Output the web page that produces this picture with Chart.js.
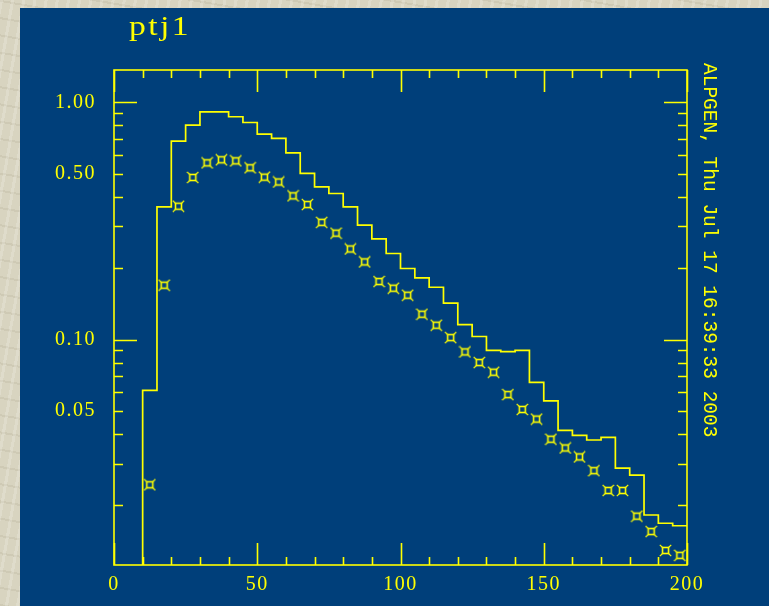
<!DOCTYPE html>
<html>
<head>
<meta charset="utf-8">
<script src="https://cdn.jsdelivr.net/npm/chart.js@4"></script>
<style>
  html, body { margin: 0; padding: 0; }
  body {
    width: 769px; height: 606px; overflow: hidden; position: relative;
    background: #d8d4c0;
    background-image:
      repeating-linear-gradient(100deg, rgba(255,255,255,0.18) 0 3px, rgba(0,0,0,0) 3px 11px),
      repeating-linear-gradient(10deg, rgba(120,110,80,0.10) 0 2px, rgba(0,0,0,0) 2px 17px);
  }
  #panel { position: absolute; left: 20px; top: 8px; width: 760px; height: 610px; background: #003f7a; }
  #chart { position: absolute; left: 0; top: 0; }
  #title {
    position: absolute; left: 129px; top: 12px; color: #ffff00;
    font: 28px/28px "Liberation Serif", serif; letter-spacing: 2px;
    transform-origin: 0 0; transform: scaleX(1.2);
  }
  #stamp {
    position: absolute; left: 720px; top: 63px; color: #ffff00; white-space: nowrap;
    font: 19.5px/22px "Liberation Mono", monospace;
    transform-origin: 0 0; transform: rotate(90deg);
  }
</style>
</head>
<body>
<div id="panel"></div>
<canvas id="chart" width="769" height="606"></canvas>
<div id="title">ptj1</div>
<div id="stamp">ALPGEN, Thu Jul 17 16:39:33 2003</div>
<script>
// bins (low edge), histogram contents and marker values
const binLow = [10, 15, 20, 25, 30, 35, 40, 45, 50, 55, 60, 65, 70, 75, 80, 85, 90, 95, 100,
  105, 110, 115, 120, 125, 130, 135, 140, 145, 150, 155, 160, 165, 170, 175, 180, 185, 190, 195];
const histValues = [0.0611, 0.3625, 0.687, 0.802, 0.913, 0.913, 0.870, 0.823, 0.735, 0.705,
  0.613, 0.502, 0.44, 0.413, 0.3625, 0.3035, 0.2657, 0.2306, 0.1993, 0.182,
  0.1662, 0.1423, 0.1156, 0.103, 0.0901, 0.0889, 0.0901, 0.066, 0.0551, 0.0414,
  0.0394, 0.0377, 0.0387, 0.0287, 0.0268, 0.0182, 0.0168, 0.0164];
const markerValues = [0.0244, 0.1695, 0.365, 0.4826, 0.556, 0.573, 0.567, 0.530, 0.484, 0.462,
  0.4036, 0.371, 0.312, 0.281, 0.241, 0.2125, 0.1757, 0.1646, 0.1538, 0.1279,
  0.1149, 0.1019, 0.0887, 0.080, 0.0728, 0.0586, 0.0507, 0.0462, 0.0380, 0.0349,
  0.0320, 0.028, 0.0231, 0.0231, 0.0180, 0.0155, 0.0129, 0.0123];
const xTickLabels = [0, 50, 100, 150, 200];
const yTickLabels = [0.05, 0.10, 0.50, 1.00];

const yellow = "#ffff00";
const binWidth = 5;
const xMin = 0, xMax = 200;
const yMin = 0.0112, yMax = 1.37;

// step outline: start from the bottom at the first edge, end at the last edge
const histPoints = [{ x: binLow[0], y: yMin / 10 }];
binLow.forEach((lo, i) => histPoints.push({ x: lo, y: histValues[i] }));
histPoints.push({ x: binLow[binLow.length - 1] + binWidth, y: histValues[histValues.length - 1] });

const markerPoints = binLow.map((lo, i) => ({ x: lo + binWidth / 2, y: markerValues[i] }));

// small square marker with spikes on the corners
function makeMarker() {
  const c = document.createElement("canvas");
  c.width = 13;
  c.height = 13;
  const g = c.getContext("2d");
  g.strokeStyle = yellow;
  g.lineWidth = 1.6;
  g.strokeRect(3.5, 3.5, 6, 6);
  g.lineWidth = 1.2;
  g.beginPath();
  g.moveTo(3.5, 3.5); g.lineTo(0.8, 0.8);
  g.moveTo(9.5, 3.5); g.lineTo(12.2, 0.8);
  g.moveTo(3.5, 9.5); g.lineTo(0.8, 12.2);
  g.moveTo(9.5, 9.5); g.lineTo(12.2, 12.2);
  g.stroke();
  return c;
}

// frame with inward ticks on all four sides
const framePlugin = {
  id: "frame",
  beforeDraw(chart) {
    chart.ctx.letterSpacing = "1.5px"; // wider digits like the original plot
  },
  afterDraw(chart) {
    const { ctx, chartArea: a, scales } = chart;
    const xs = scales.x, ys = scales.y;
    ctx.save();
    ctx.strokeStyle = yellow;
    ctx.lineWidth = 1.6;
    ctx.strokeRect(a.left, a.top, a.right - a.left, a.bottom - a.top);
    ctx.beginPath();
    for (let v = xMin; v <= xMax; v += 10) {
      const px = Math.round(xs.getPixelForValue(v)) + 0.5;
      const len = v % 50 === 0 ? 22 : 8;
      ctx.moveTo(px, a.bottom); ctx.lineTo(px, a.bottom - len);
      ctx.moveTo(px, a.top); ctx.lineTo(px, a.top + len);
    }
    for (let e = -2; e <= 0; e++) {
      for (let m = 1; m <= 9; m++) {
        const v = m * Math.pow(10, e);
        if (v < yMin || v > yMax) continue;
        const py = Math.round(ys.getPixelForValue(v)) + 0.5;
        const len = m === 1 ? 23 : 9;
        ctx.moveTo(a.left, py); ctx.lineTo(a.left + len, py);
        ctx.moveTo(a.right, py); ctx.lineTo(a.right - len, py);
      }
    }
    ctx.stroke();
    ctx.restore();
  }
};

const tickFont = { family: "'Liberation Serif', serif", size: 20 };

new Chart(document.getElementById("chart"), {
  type: "line",
  data: {
    datasets: [
      {
        label: "histogram",
        data: histPoints,
        stepped: "before",
        borderColor: yellow,
        borderWidth: 1.7,
        pointRadius: 0,
        fill: false,
      },
      {
        label: "points",
        data: markerPoints,
        showLine: false,
        pointStyle: makeMarker(),
        pointRadius: 6,
      },
    ],
  },
  options: {
    responsive: false,
    animation: false,
    layout: { padding: { top: 70, right: 82, left: 0, bottom: 0 } },
    plugins: { legend: { display: false }, tooltip: { enabled: false } },
    scales: {
      x: {
        type: "linear",
        min: xMin,
        max: xMax,
        grid: { display: false, drawTicks: false },
        border: { display: false },
        afterBuildTicks: (s) => { s.ticks = xTickLabels.map((v) => ({ value: v })); },
        afterFit: (s) => { s.height = 41; },
        ticks: { color: yellow, font: tickFont, padding: 8, maxRotation: 0 },
      },
      y: {
        type: "logarithmic",
        bounds: "data",
        min: yMin,
        max: yMax,
        grid: { display: false, drawTicks: false },
        border: { display: false },
        afterBuildTicks: (s) => { s.ticks = yTickLabels.map((v) => ({ value: v })); },
        afterFit: (s) => { s.width = 114; },
        ticks: {
          color: yellow,
          font: tickFont,
          padding: 18,
          callback: (v) => Number(v).toFixed(2),
        },
      },
    },
  },
  plugins: [framePlugin],
});
</script>
</body>
</html>
